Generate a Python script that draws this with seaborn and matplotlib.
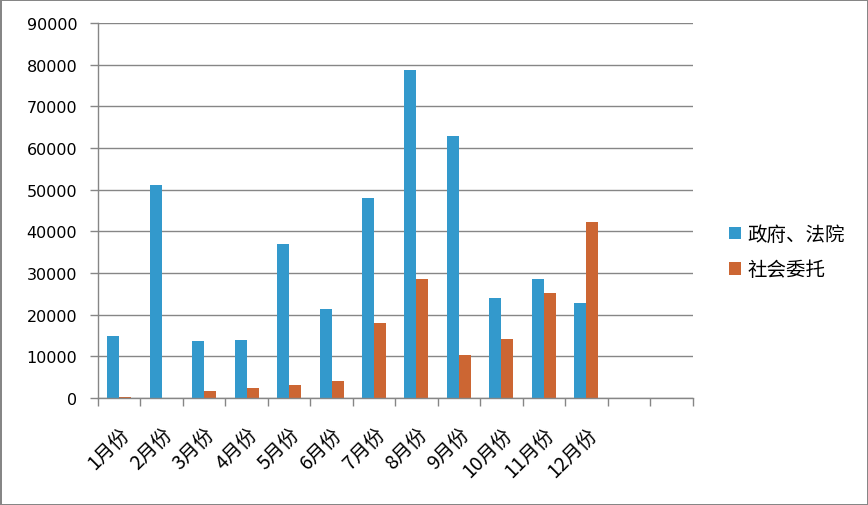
import matplotlib
matplotlib.use('Agg')
import matplotlib.pyplot as plt
import seaborn as sns
import pandas as pd
from matplotlib.patches import Patch

# monthly counts
months = ['1月份', '2月份', '3月份', '4月份', '5月份', '6月份',
          '7月份', '8月份', '9月份', '10月份', '11月份', '12月份']
empty_slots = ['_a', '_b']  # two empty categories at the end of the axis
gov = [15000, 51200, 13700, 13900, 37000, 21400, 48000, 78800, 62900, 24000, 28600, 22800]
social = [300, 0, 1700, 2400, 3100, 4100, 18000, 28600, 10300, 14200, 25200, 42300]
series = ['政府、法院', '社会委托']
colors = ['#3399CC', '#CC6633']
yticks = list(range(0, 90001, 10000))

df = pd.DataFrame({
    'month': months * 2,
    'value': gov + social,
    'series': [series[0]] * 12 + [series[1]] * 12,
})

grid_col = '#868686'
cjk = ['Noto Sans CJK SC', 'DejaVu Sans']

fig = plt.figure(figsize=(8.68, 5.06), dpi=100)
fig.patch.set_facecolor('white')
fig.patch.set_edgecolor(grid_col)
fig.patch.set_linewidth(2)
ax = fig.add_axes([98 / 868, 1 - 399 / 506, 594.5 / 868, 375 / 506])

sns.barplot(data=df, x='month', y='value', hue='series', order=months + empty_slots,
            hue_order=series, palette=colors, width=0.565, saturation=1,
            legend=False, ax=ax, edgecolor='none', linewidth=0)

ax.set_xlim(-0.5, 13.5)
ax.set_ylim(0, 90000)
ax.set_yticks(yticks)
ax.set_yticklabels([str(v) for v in yticks], family='DejaVu Sans', fontsize=11.5)
ax.yaxis.grid(True, color=grid_col, linewidth=1)
ax.set_axisbelow(True)

# tick marks at slot boundaries, labels at slot centres
ax.set_xticks([i - 0.5 for i in range(15)])
ax.set_xticklabels([])
ax.set_xticks(range(14), minor=True)
ax.set_xticklabels(months + ['', ''], minor=True, rotation=45, ha='right',
                   rotation_mode='anchor', family=cjk, fontsize=14)
ax.tick_params(axis='x', which='major', length=5.5, color=grid_col, width=1)
ax.tick_params(axis='x', which='minor', length=0, pad=18)
ax.tick_params(axis='y', length=5.5, color=grid_col, width=1, pad=9.5)

for side in ['top', 'right']:
    ax.spines[side].set_visible(False)
for side in ['left', 'bottom']:
    ax.spines[side].set_color(grid_col)
    ax.spines[side].set_linewidth(1)
ax.set_xlabel('')
ax.set_ylabel('')

handles = [Patch(facecolor=c, edgecolor='none') for c in colors]
fig.legend(handles, series, loc='center left', bbox_to_anchor=(0.82, 0.5),
           frameon=False, prop={'family': cjk, 'size': 14},
           handlelength=0.6, handleheight=0.6, handletextpad=0.35, labelspacing=0.75)

fig.savefig('out.png', dpi=100)
